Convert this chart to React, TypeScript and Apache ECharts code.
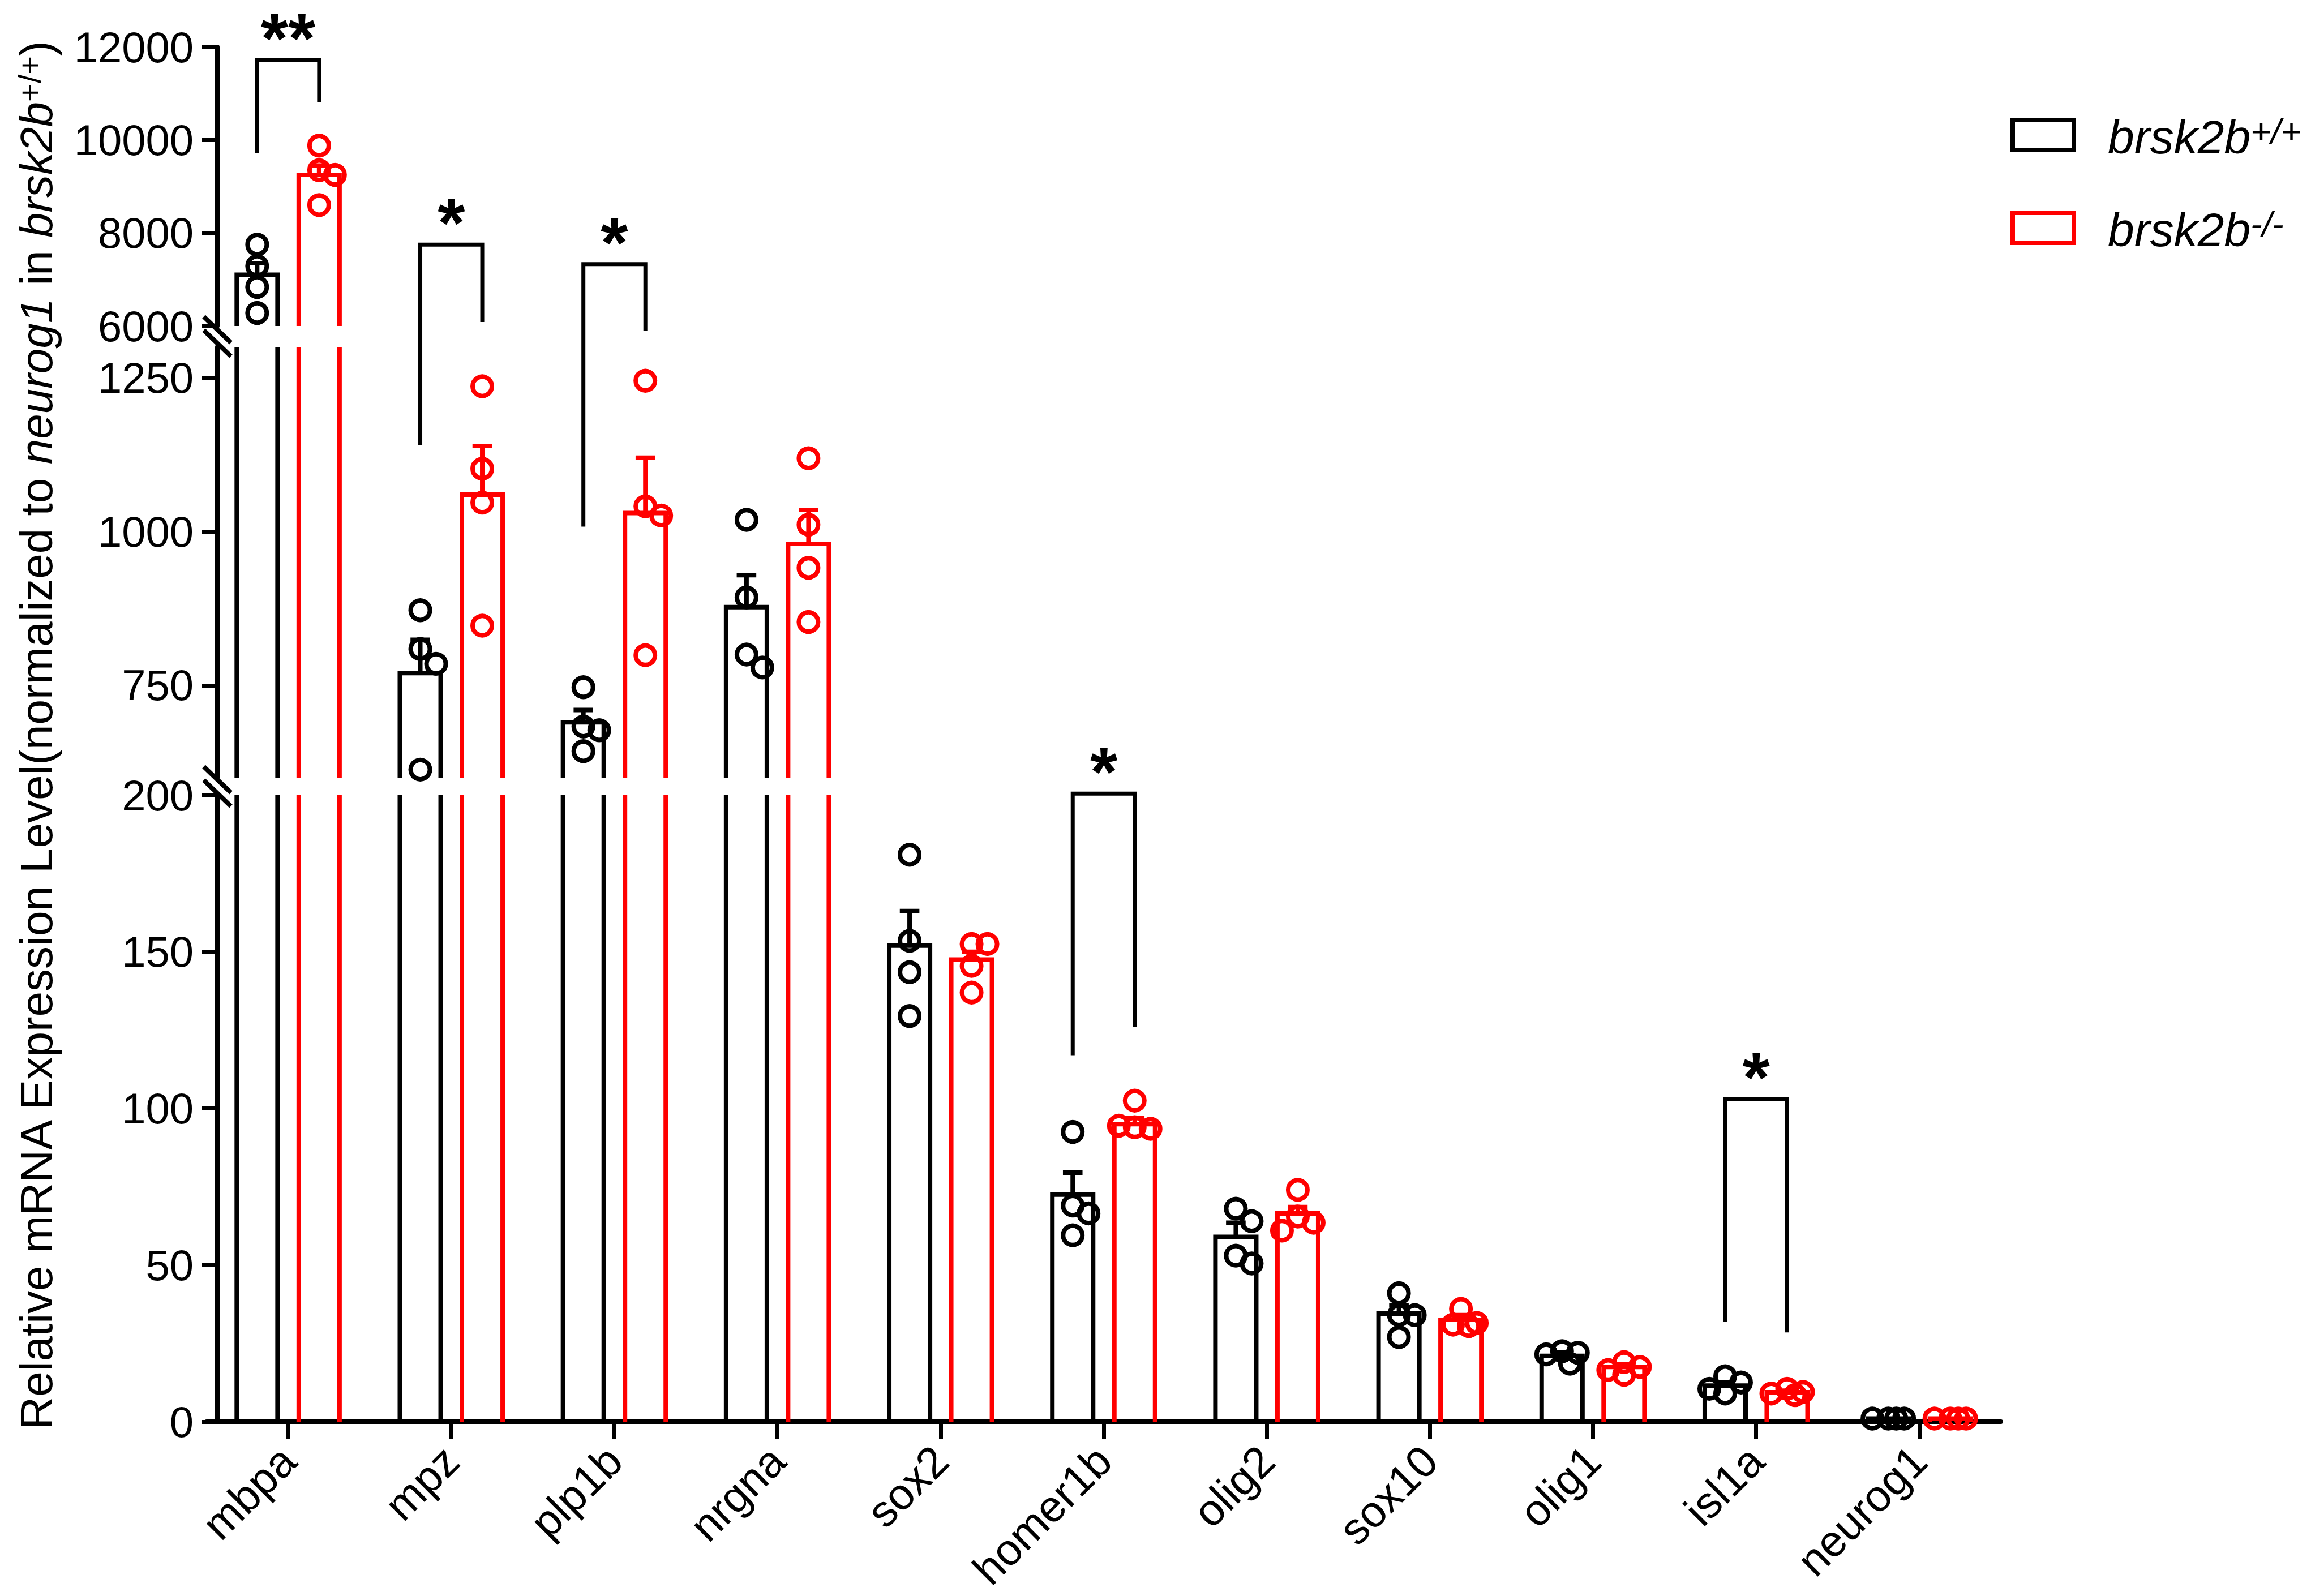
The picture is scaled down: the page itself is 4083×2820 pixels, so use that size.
import React, { useEffect, useRef } from 'react';
import * as echarts from 'echarts';

// ---------- data ----------
const categories = ['mbpa', 'mpz', 'plp1b', 'nrgna', 'sox2', 'homer1b', 'olig2', 'sox10', 'olig1', 'isl1a', 'neurog1'];

const wtMean = [7100, 770, 690, 877, 152, 72.5, 59, 34.5, 21, 11.5, 1];
const wtSem = [250, 54, 20, 52, 11, 7, 4.5, 2.6, 1.2, 1.1, 0];
const koMean = [9250, 1060, 1030, 980, 147.5, 95, 66.5, 32.5, 17.5, 9.4, 1];
const koSem = [200, 79, 90, 55, 2.5, 2, 2, 1.5, 0.8, 0.5, 0];

const wtPoints = [
  [7750, 7290, 6840, 6280],
  [872, 809, 785, 613],
  [747, 683, 677, 643],
  [1019, 893, 800, 779],
  [181, 153.5, 143.5, 129.5],
  [92.5, 69, 66.5, 59.5],
  [68, 64, 53, 50.5],
  [41, 34, 34, 27],
  [22.5, 22, 21.5, 18.5],
  [14.5, 12.5, 10.5, 9],
  [1, 1, 1, 1],
];
const koPoints = [
  [9880, 9350, 9250, 8600],
  [1236, 1102, 1047, 847],
  [1245, 1041, 1026, 799],
  [1119, 1011, 941, 853],
  [152.5, 152.5, 145.5, 137],
  [102.5, 94, 93.5, 94.5],
  [74, 65.5, 63.5, 61],
  [36, 31.5, 31, 30.5],
  [19, 17.5, 16.5, 15],
  [10.5, 9.5, 9, 8.5],
  [1, 1, 1, 1],
];

// broken y axis segments (top, middle, bottom)
const segmentMin = [6000, 600, 0];
const segmentMax = [12000, 1300, 200];
const topTicks = [6000, 8000, 10000, 12000];
const midTicks = [750, 1000, 1250];
const lowTicks = [0, 50, 100, 150, 200];

// significance brackets
const bracketCats = ['mbpa', 'mpz', 'plp1b', 'homer1b', 'isl1a'];
const bracketTop = [11720, 7750, 7330, 200.5, 103];
const bracketLeftEnd = [9720, 1140, 1008, 117, 32];
const bracketRightEnd = [10820, 6085, 5890, 126, 28.5];
const bracketLabels = ['**', '*', '*', '*', '*'];

// ---------- layout / style ----------
const FONT = '"Liberation Sans", Arial, Helvetica, sans-serif';
const BLACK = '#000000';
const RED = '#ff0000';
const GRID_LEFT = 365;
const GRID_WIDTH = 3170;
const AXIS_SHIFT = 19;
const GRIDS = [
  { top: 83, height: 493 },
  { top: 613, height: 761 },
  { top: 1405, height: 1107 },
];
const BAR_OFFSET = 0.19;
const BAR_WIDTH = 0.25;
const CAP_WIDTH = 0.12;
const LW = 8;
const PT_R = 17;
const PT_LW = 8;

function segOf(v: number): number {
  if (v >= 5000) return 0;
  if (v >= 500) return 1;
  return 2;
}

function swarm(ys: number[], minDist: number, step: number): number[] {
  const placed: [number, number][] = [];
  const out: number[] = [];
  const cands = [0, 1, -1, 2, -2];
  for (const y of ys) {
    let best = 0;
    let bestD = -1;
    for (const k of cands) {
      const x = k * step;
      let d = Infinity;
      for (const [px, py] of placed) d = Math.min(d, Math.hypot(x - px, y - py));
      if (d >= minDist) {
        best = x;
        bestD = d;
        break;
      }
      if (d > bestD) {
        bestD = d;
        best = x;
      }
    }
    placed.push([best, y]);
    out.push(best);
  }
  return out;
}

function makeRender(color: string, side: number) {
  return (params: any, api: any) => {
    const cs = params.coordSys;
    const yTop = cs.y;
    const yBot = cs.y + cs.height;
    const ci = api.value(0);
    const mean = api.value(1);
    const sem = api.value(2);
    const pts = [api.value(3), api.value(4), api.value(5), api.value(6)];
    const band = api.size([1, 0])[0];
    const cx = api.coord([ci, mean])[0] + side * BAR_OFFSET * band;
    const hw = (BAR_WIDTH * band) / 2;
    const x0 = cx - hw;
    const x1 = cx + hw;
    const st = { stroke: color, lineWidth: LW, fill: 'none' };
    const children: any[] = [];
    const yBase = Math.min(api.coord([ci, 0])[1], yBot);
    const yVal = api.coord([ci, mean])[1];
    if (yVal < yBot - 0.5) {
      if (yVal >= yTop) {
        children.push({
          type: 'polyline',
          shape: { points: [[x0, yBase], [x0, yVal], [x1, yVal], [x1, yBase]] },
          style: { ...st, lineJoin: 'miter' },
        });
        if (sem > 0) {
          const yErr = api.coord([ci, mean + sem])[1];
          const ch = (CAP_WIDTH * band) / 2;
          children.push({ type: 'line', shape: { x1: cx, y1: yVal, x2: cx, y2: yErr }, style: st });
          children.push({ type: 'line', shape: { x1: cx - ch, y1: yErr, x2: cx + ch, y2: yErr }, style: st });
        }
      } else {
        children.push({ type: 'line', shape: { x1: x0, y1: yBase, x2: x0, y2: yTop }, style: st });
        children.push({ type: 'line', shape: { x1: x1, y1: yBase, x2: x1, y2: yTop }, style: st });
      }
    }
    const ys: number[] = [];
    for (const p of pts) {
      const py = api.coord([ci, p])[1];
      if (py >= yTop - 2 && py <= yBot + 2) ys.push(py);
    }
    const offs = swarm(ys, 30, 14);
    ys.forEach((py, k) => {
      children.push({
        type: 'circle',
        shape: { cx: cx + offs[k], cy: py, r: PT_R },
        style: { stroke: color, lineWidth: PT_LW, fill: 'none' },
        z2: 10,
      });
    });
    return { type: 'group', children };
  };
}

export default function App() {
  const ref = useRef<HTMLDivElement>(null);

  useEffect(() => {
    document.body.style.margin = '0';
    document.body.style.overflow = 'hidden';
    if (!ref.current) return;
    const chart = echarts.init(ref.current, null, { renderer: 'svg' });

    const segTicks = [topTicks, midTicks, lowTicks];
    const series: any[] = [];
    GRIDS.forEach((_, g) => {
      [
        { name: 'brsk2b+/+', color: BLACK, side: -1, mean: wtMean, sem: wtSem, pts: wtPoints },
        { name: 'brsk2b-/-', color: RED, side: 1, mean: koMean, sem: koSem, pts: koPoints },
      ].forEach((s) => {
        series.push({
          type: 'custom',
          name: s.name,
          xAxisIndex: g,
          yAxisIndex: g,
          renderItem: makeRender(s.color, s.side),
          encode: { x: 0, y: 1 },
          data: categories.map((_, i) => [i, s.mean[i], s.sem[i], ...s.pts[i]]),
          silent: true,
        });
      });
    });

    chart.setOption({
      animation: false,
      backgroundColor: '#ffffff',
      textStyle: { fontFamily: FONT, color: BLACK },
      grid: GRIDS.map((g) => ({
        left: GRID_LEFT,
        width: GRID_WIDTH,
        top: g.top,
        height: g.height,
        containLabel: false,
        outerBoundsMode: 'none',
      })),
      xAxis: GRIDS.map((_, g) => ({
        gridIndex: g,
        type: 'category',
        data: categories,
        boundaryGap: true,
        show: g === 2,
        axisLine: { show: true, lineStyle: { color: BLACK, width: LW } },
        axisTick: { show: true, alignWithLabel: true, length: 30, lineStyle: { color: BLACK, width: 7 } },
        axisLabel: {
          interval: 0,
          rotate: 45,
          fontSize: 78,
          color: BLACK,
          fontFamily: FONT,
          margin: 56,
        },
        splitLine: { show: false },
      })),
      yAxis: GRIDS.map((_, g) => ({
        gridIndex: g,
        type: 'value',
        min: segmentMin[g],
        max: segmentMax[g],
        offset: -AXIS_SHIFT,
        axisLine: { show: true, lineStyle: { color: BLACK, width: LW } },
        axisTick: {
          show: true,
          length: 27,
          lineStyle: { color: BLACK, width: 7 },
          customValues: segTicks[g],
        },
        axisLabel: {
          customValues: segTicks[g],
          formatter: (v: number) => String(v),
          fontSize: 76,
          color: BLACK,
          fontFamily: FONT,
          margin: 42,
        },
        splitLine: { show: false },
      })),
      series,
    });

    // overlay: brackets, stars, break marks, title, legend
    const px = (g: number, ci: number, v: number) =>
      chart.convertToPixel({ xAxisIndex: g, yAxisIndex: g } as any, [ci, v]) as number[];
    const band = px(2, 1, 0)[0] - px(2, 0, 0)[0];
    const graphics: any[] = [];

    bracketCats.forEach((cat, b) => {
      const ci = categories.indexOf(cat);
      const xc = px(2, ci, 0)[0];
      const xl = xc - BAR_OFFSET * band;
      const xr = xc + BAR_OFFSET * band;
      const yT = px(segOf(bracketTop[b]), ci, bracketTop[b])[1];
      const yL = px(segOf(bracketLeftEnd[b]), ci, bracketLeftEnd[b])[1];
      const yR = px(segOf(bracketRightEnd[b]), ci, bracketRightEnd[b])[1];
      graphics.push({
        type: 'polyline',
        shape: { points: [[xl, yL], [xl, yT], [xr, yT], [xr, yR]] },
        style: { stroke: BLACK, lineWidth: 7, fill: 'none', lineJoin: 'miter' },
        silent: true,
      });
      graphics.push({
        type: 'text',
        x: (xl + xr) / 2,
        y: yT - 38,
        style: {
          text: bracketLabels[b],
          fontSize: 124,
          fontWeight: 'bold',
          fontFamily: FONT,
          fill: BLACK,
          align: 'center',
          verticalAlign: 'middle',
        },
        silent: true,
      });
    });

    const axisX = GRID_LEFT + AXIS_SHIFT;
    for (let g = 0; g < GRIDS.length - 1; g++) {
      const midY = (GRIDS[g].top + GRIDS[g].height + GRIDS[g + 1].top) / 2;
      [-12, 12].forEach((d) => {
        graphics.push({
          type: 'line',
          shape: { x1: axisX - 24, y1: midY + d - 23, x2: axisX + 24, y2: midY + d + 23 },
          style: { stroke: BLACK, lineWidth: 8 },
          silent: true,
        });
      });
    }

    graphics.push({
      type: 'text',
      x: 64,
      y: 1300,
      rotation: Math.PI / 2,
      style: {
        text: '{n|Relative mRNA Expression Level(normalized to }{i|neurog1}{n| in }{i|brsk2b}{s|+/+}{n|)}',
        align: 'center',
        verticalAlign: 'middle',
        rich: {
          n: { fontSize: 80, fontFamily: FONT, fill: BLACK },
          i: { fontSize: 80, fontFamily: FONT, fontStyle: 'italic', fill: BLACK },
          s: { fontSize: 56, fontFamily: FONT, fill: BLACK, verticalAlign: 'top' },
        },
      },
      silent: true,
    });

    const legendItems = [
      { color: BLACK, sup: '+/+', y: 212 },
      { color: RED, sup: '-/-', y: 376 },
    ];
    legendItems.forEach((it) => {
      graphics.push({
        type: 'rect',
        shape: { x: 3556, y: it.y, width: 108, height: 53 },
        style: { stroke: it.color, lineWidth: 8, fill: 'none' },
        silent: true,
      });
      graphics.push({
        type: 'text',
        x: 3724,
        y: it.y + 30,
        style: {
          text: '{i|brsk2b}{s|' + it.sup + '}',
          align: 'left',
          verticalAlign: 'middle',
          rich: {
            i: { fontSize: 84, fontFamily: FONT, fontStyle: 'italic', fill: BLACK },
            s: { fontSize: 62, fontFamily: FONT, fontStyle: 'italic', fill: BLACK, verticalAlign: 'top' },
          },
        },
        silent: true,
      });
    });

    chart.setOption({ graphic: graphics });

    return () => {
      chart.dispose();
    };
  }, []);

  return <div ref={ref} style={{ width: 4083, height: 2820 }} />;
}
